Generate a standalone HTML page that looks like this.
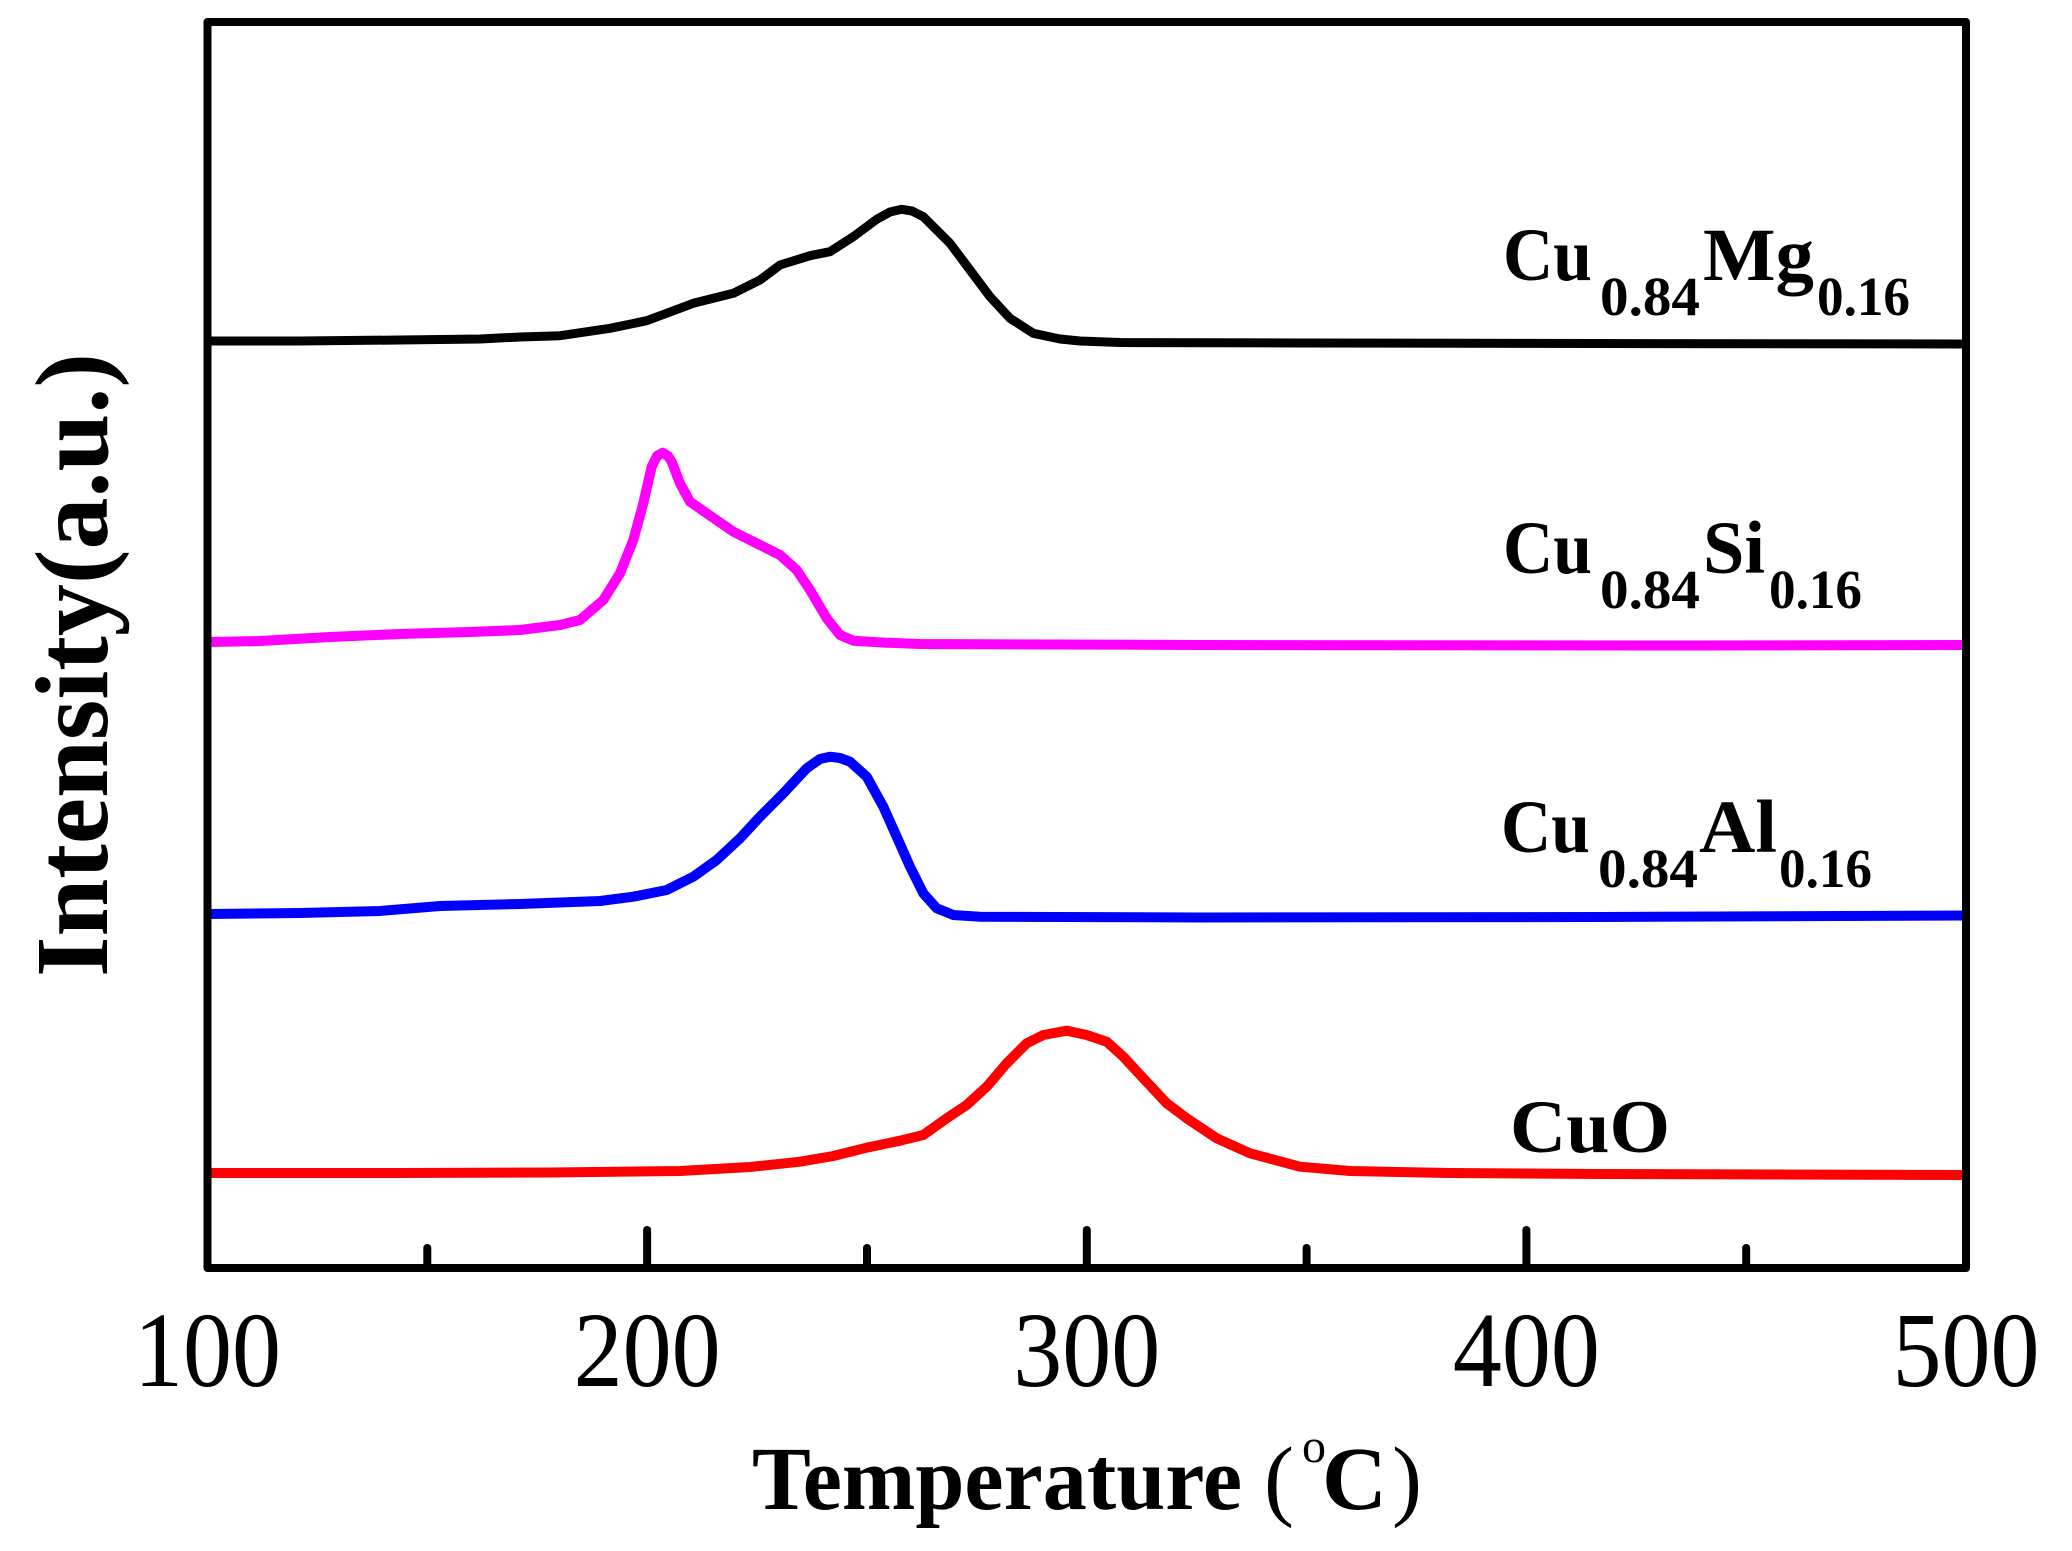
<!DOCTYPE html>
<html>
<head>
<meta charset="utf-8">
<style>
html,body{margin:0;padding:0;background:#fff;}
svg{display:block;}
text{font-family:"Liberation Serif","Times New Roman",serif;fill:#000;}
</style>
</head>
<body>
<svg width="2072" height="1551" viewBox="0 0 2072 1551" xmlns="http://www.w3.org/2000/svg">
<rect x="0" y="0" width="2072" height="1551" fill="#fff"/>

<!-- curves -->
<g fill="none" stroke-linejoin="round" stroke-linecap="round">
<polyline stroke="#000" stroke-width="9" points="209,341 300,341 400,340 480,339 520,337 560,335.7 610,328.3 646.7,320.7 693.3,303.3 733.3,293.3 760,280 780,265 810,255.7 830,251.7 853.3,236.7 876.7,219.3 890,212 901.7,209.3 912,211 923.3,216.7 950,243.3 970,270 990,296.7 1010,318.3 1033.3,333.3 1060,339 1080,341 1120,342.5 1300,343 1600,343.5 1964,344"/>
<polyline stroke="#ff00ff" stroke-width="10" points="209,642 260,641 330,637 400,634 470,632 520,630 560,625 580,620 603.3,600 620,573.3 633.3,540 643.3,503.3 651.7,466.7 657,456 662.7,452.7 668,456 671.7,461.7 680,483.3 690,501.7 706.7,513.3 733.3,531.7 760,545 780,555 796.7,570 810,590 826.7,618.3 840,635 853.3,640.7 886.7,642.7 920,644 1200,645 1700,645.5 1964,645"/>
<polyline stroke="#0000ff" stroke-width="10" points="209,914 300,913 380,911 440,906 520,904 600,901 633.3,896.7 666.7,890 693.3,876.7 716.7,860 740,838.3 760,816.7 783.3,793.3 806.7,768.3 820,759 830,756.7 840,758 850,761.7 866.7,776.7 883.3,806.7 896.7,836.7 910,866.7 923.3,893.3 936.7,908.3 953.3,915 980,916.7 1200,917.5 1600,917 1964,915.5"/>
<polyline stroke="#ff0000" stroke-width="10" points="209,1173 400,1173 550,1172.5 680,1171 750,1167 800,1161.7 833.3,1156 866.7,1147.7 900,1140.7 923.3,1135 946.7,1118.3 966.7,1105 986.7,1086.7 1006.7,1063.3 1026.7,1043.3 1043.3,1035 1066.7,1030.7 1086.7,1035 1106.7,1041.7 1123.3,1056.7 1143.3,1078.3 1166.7,1103.3 1186.7,1118.3 1216.7,1138.3 1250,1153.3 1300,1166.7 1350,1171 1450,1173 1600,1174 1964,1175"/>
</g>

<!-- frame -->
<rect x="207.5" y="22" width="1758.5" height="1246" fill="none" stroke="#000" stroke-width="8" stroke-linejoin="round"/>

<!-- ticks -->
<g stroke="#000" stroke-width="8" stroke-linecap="round">
<line x1="647.1" y1="1230" x2="647.1" y2="1268"/>
<line x1="1086.8" y1="1230" x2="1086.8" y2="1268"/>
<line x1="1526.4" y1="1230" x2="1526.4" y2="1268"/>
<line x1="427.3" y1="1248" x2="427.3" y2="1268"/>
<line x1="867" y1="1248" x2="867" y2="1268"/>
<line x1="1306.6" y1="1248" x2="1306.6" y2="1268"/>
<line x1="1746.2" y1="1248" x2="1746.2" y2="1268"/>
</g>

<!-- tick labels -->
<g font-size="107" text-anchor="middle">
<text x="207.5" y="1386" textLength="147" lengthAdjust="spacingAndGlyphs">100</text>
<text x="647.1" y="1386" textLength="147" lengthAdjust="spacingAndGlyphs">200</text>
<text x="1086.8" y="1386" textLength="147" lengthAdjust="spacingAndGlyphs">300</text>
<text x="1526.4" y="1386" textLength="147" lengthAdjust="spacingAndGlyphs">400</text>
<text x="1966" y="1386" textLength="147" lengthAdjust="spacingAndGlyphs">500</text>
</g>

<!-- series labels -->
<g font-weight="bold">
<text x="1503" y="280" font-size="75" textLength="89" lengthAdjust="spacingAndGlyphs">Cu</text>
<text x="1600" y="315" font-size="55" textLength="100" lengthAdjust="spacingAndGlyphs">0.84</text>
<text x="1703" y="280" font-size="75" textLength="111" lengthAdjust="spacingAndGlyphs">Mg</text>
<text x="1817" y="315" font-size="55" textLength="93" lengthAdjust="spacingAndGlyphs">0.16</text>

<text x="1503" y="573" font-size="75" textLength="89" lengthAdjust="spacingAndGlyphs">Cu</text>
<text x="1600" y="608" font-size="55" textLength="100" lengthAdjust="spacingAndGlyphs">0.84</text>
<text x="1703" y="573" font-size="75" textLength="62" lengthAdjust="spacingAndGlyphs">Si</text>
<text x="1769" y="608" font-size="55" textLength="93" lengthAdjust="spacingAndGlyphs">0.16</text>

<text x="1501" y="852" font-size="75" textLength="89" lengthAdjust="spacingAndGlyphs">Cu</text>
<text x="1598" y="887" font-size="55" textLength="100" lengthAdjust="spacingAndGlyphs">0.84</text>
<text x="1699" y="852" font-size="75" textLength="78" lengthAdjust="spacingAndGlyphs">Al</text>
<text x="1779" y="887" font-size="55" textLength="93" lengthAdjust="spacingAndGlyphs">0.16</text>

<text x="1510" y="1152" font-size="75" textLength="160" lengthAdjust="spacingAndGlyphs">CuO</text>
</g>

<!-- x axis title -->
<text x="752" y="1509" font-size="90" font-weight="bold" textLength="490" lengthAdjust="spacingAndGlyphs">Temperature</text>
<text x="1264" y="1509" font-size="90">(</text>
<text x="1302" y="1462" font-size="48">o</text>
<text x="1322" y="1509" font-size="90" font-weight="bold">C</text>
<text x="1392" y="1509" font-size="90">)</text>

<!-- y axis title -->
<text transform="translate(107,665) rotate(-90)" text-anchor="middle" font-size="104" font-weight="bold" textLength="624" lengthAdjust="spacingAndGlyphs">Intensity(a.u.)</text>
</svg>
</body>
</html>
